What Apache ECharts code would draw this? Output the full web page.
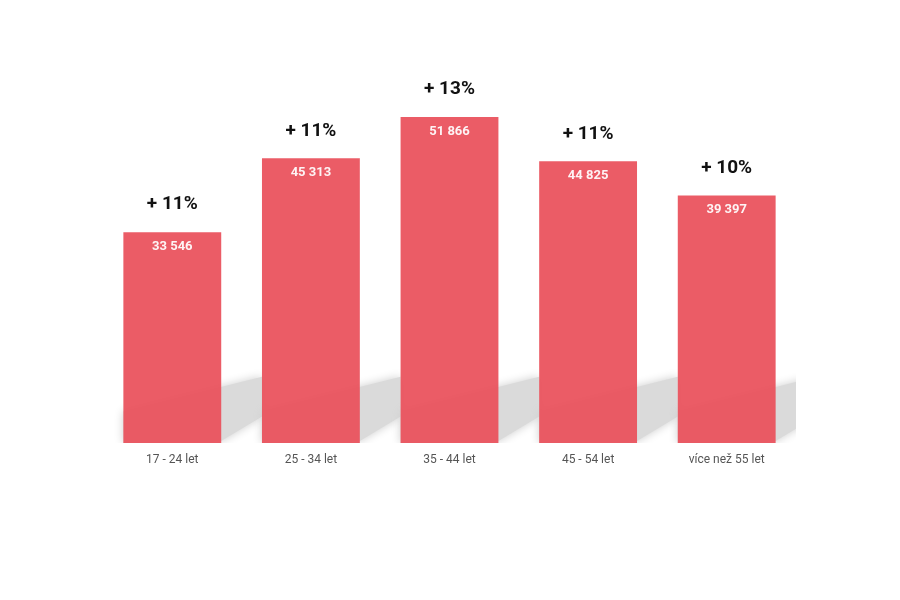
<!DOCTYPE html>
<html><head><meta charset="utf-8">
<script src="https://cdn.jsdelivr.net/npm/echarts@6/dist/echarts.min.js"></script>
<style>html,body{margin:0;padding:0;background:#fff}#c{width:900px;height:600px}</style>
</head><body><div id="c"></div>
<script>
const categories = ['17 - 24 let', '25 - 34 let', '35 - 44 let', '45 - 54 let', 'více než 55 let'];
const values = [33546, 45313, 51866, 44825, 39397];
const growth = ['+ 11%', '+ 11%', '+ 13%', '+ 11%', '+ 10%'];

const chart = echarts.init(document.getElementById('c'));
const fmt = v => String(v).replace(/\B(?=(\d{3})+(?!\d))/g, ' ');

chart.setOption({
  animation: false,
  backgroundColor: '#fff',
  grid: { left: 103, right: 104, top: 66, bottom: 157 },
  xAxis: {
    type: 'category', data: categories,
    axisLine: { show: false }, axisTick: { show: false },
    axisLabel: { color: '#555', fontSize: 12, fontFamily: 'Roboto', margin: 11 }
  },
  yAxis: { type: 'value', min: 0, max: 60000, show: false, splitLine: { show: false } },
  series: [
    {
      type: 'custom', z: 1, clip: true,
      data: values.map((v, i) => [i, v]),
      renderItem: function (params, api) {
        const base = api.coord([api.value(0), 0]);
        const band = api.size([1, 0])[0];
        const w = band * 0.706;
        const x0 = base[0] - w / 2, x1 = base[0] + w / 2, y = base[1];
        const dx = band - w;
        const topAt = x => y - 56 - 0.25 * (x - x1);
        const botAt = x => Math.min(y, y - 2 - 0.6 * (x - x1));
        return {
          type: 'polygon',
          shape: { points: [[x0, y], [x1, botAt(x1)], [x1 + dx, botAt(x1 + dx)], [x1 + dx, topAt(x1 + dx)], [x0, topAt(x0)]] },
          style: { fill: '#dadada', shadowBlur: 10, shadowColor: 'rgba(205,205,205,1)' }
        };
      }
    },
    {
      type: 'bar', z: 3, data: values, barWidth: '70.6%',
      itemStyle: { color: 'rgb(234,80,90)', opacity: 0.93 },
      label: {
        show: true, position: 'insideTop', distance: 8,
        color: '#fff', fontWeight: 'bold', fontSize: 13, fontFamily: 'Roboto',
        formatter: p => fmt(p.value)
      }
    },
    {
      type: 'bar', z: 4, data: values, barWidth: '70.6%', barGap: '-100%',
      itemStyle: { color: 'transparent' }, silent: true,
      label: {
        show: true, position: 'top', distance: 18,
        color: '#111', fontWeight: 'bold', fontSize: 19, fontFamily: 'Roboto',
        formatter: p => growth[p.dataIndex]
      }
    }
  ]
});
</script></body></html>
